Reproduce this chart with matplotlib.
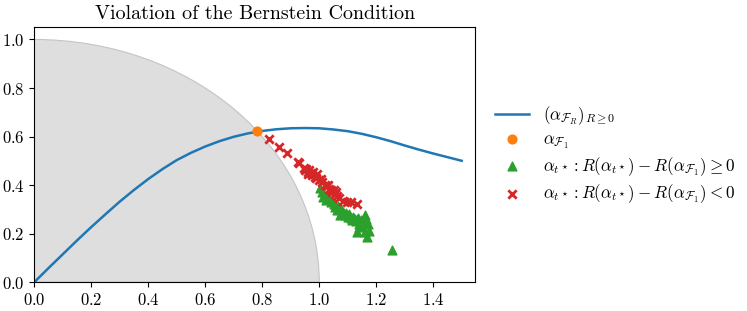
import matplotlib
matplotlib.use("Agg")
import matplotlib.pyplot as plt
from matplotlib.patches import Wedge

plt.rcParams['font.family'] = 'serif'
plt.rcParams['font.serif'] = ['cmr10']
plt.rcParams['mathtext.fontset'] = 'cm'
plt.rcParams['axes.formatter.use_mathtext'] = True
plt.rcParams['axes.unicode_minus'] = False

# curve (alpha_F_R)
curve_x = [0.0, 0.05, 0.1, 0.15, 0.2, 0.25, 0.3, 0.35, 0.4, 0.45, 0.5, 0.55,
           0.6, 0.65, 0.7, 0.75, 0.8, 0.85, 0.9, 0.95, 1.0, 1.05, 1.1, 1.15,
           1.2, 1.25, 1.3, 1.35, 1.4, 1.45, 1.5]
curve_y = [0.0, 0.058, 0.115, 0.172, 0.227, 0.280, 0.332, 0.380, 0.425, 0.466,
           0.503, 0.533, 0.559, 0.581, 0.599, 0.613, 0.623, 0.630, 0.634, 0.635,
           0.634, 0.629, 0.622, 0.611, 0.597, 0.581, 0.563, 0.546, 0.530, 0.515,
           0.5]

# alpha_F1
f1_x = [0.781]
f1_y = [0.622]

# alpha_t*, risk difference >= 0
good_x = [1.003, 1.010, 1.014, 1.020, 1.025, 1.030, 1.040, 1.045, 1.050, 1.055,
          1.061, 1.065, 1.073, 1.075, 1.080, 1.085, 1.090, 1.095, 1.100, 1.105,
          1.110, 1.115, 1.120, 1.125, 1.130, 1.135, 1.140, 1.145, 1.150, 1.160,
          1.165, 1.170, 1.131, 1.140, 1.160, 1.166, 1.175, 1.256]
good_y = [0.386, 0.370, 0.351, 0.355, 0.340, 0.350, 0.330, 0.340, 0.320, 0.310,
          0.297, 0.315, 0.276, 0.300, 0.280, 0.290, 0.275, 0.285, 0.270, 0.280,
          0.265, 0.255, 0.270, 0.260, 0.250, 0.265, 0.240, 0.255, 0.230, 0.276,
          0.260, 0.240, 0.207, 0.225, 0.205, 0.187, 0.210, 0.132]

# alpha_t*, risk difference < 0
bad_x = [0.822, 0.857, 0.888, 0.924, 0.930, 0.945, 0.950, 0.955, 0.960, 0.965,
         0.962, 0.970, 0.975, 0.978, 0.985, 0.990, 0.992, 0.998, 1.005, 1.010,
         1.020, 1.028, 1.032, 1.035, 1.040, 1.045, 1.050, 1.055, 1.060, 1.062,
         1.070, 1.085, 1.096, 1.110, 1.131]
bad_y = [0.589, 0.556, 0.534, 0.496, 0.490, 0.470, 0.462, 0.468, 0.455, 0.460,
         0.445, 0.450, 0.440, 0.455, 0.435, 0.430, 0.445, 0.420, 0.425, 0.412,
         0.400, 0.395, 0.402, 0.385, 0.378, 0.370, 0.380, 0.365, 0.372, 0.355,
         0.345, 0.335, 0.331, 0.330, 0.320]

radius = 1.0

fig = plt.figure(figsize=(7.47, 3.11), dpi=100)
ax = fig.add_axes([0.046, 0.093, 0.59, 0.819])

ax.add_patch(Wedge((0, 0), radius, 0, 90, facecolor='#dedede',
                   edgecolor='#c4c4c4', linewidth=0.8, zorder=0))

ax.plot(curve_x, curve_y, color='tab:blue', lw=1.8,
        label=r'$(\alpha_{\mathcal{F}_R})_{R\geq 0}$')
ax.scatter(f1_x, f1_y, color='tab:orange', marker='o', s=40, zorder=4,
           label=r'$\alpha_{\mathcal{F}_1}$')
ax.scatter(good_x, good_y, color='tab:green', marker='^', s=40, zorder=3,
           label=r'$\alpha_{t^\star}: R(\alpha_{t^\star}) - R(\alpha_{\mathcal{F}_1}) \geq 0$')
ax.scatter(bad_x, bad_y, color='tab:red', marker='x', s=36, linewidths=2,
           zorder=3,
           label=r'$\alpha_{t^\star}: R(\alpha_{t^\star}) - R(\alpha_{\mathcal{F}_1}) < 0$')

ax.set_xlim(0, 1.547)
ax.set_ylim(0, 1.05)
ax.set_xticks([0.0, 0.2, 0.4, 0.6, 0.8, 1.0, 1.2, 1.4])
ax.set_yticks([0.0, 0.2, 0.4, 0.6, 0.8, 1.0])
ax.tick_params(labelsize=12)
ax.set_title('Violation of the Bernstein Condition', fontsize=14.4)

ax.legend(loc='center left', bbox_to_anchor=(1.01, 0.5), frameon=False,
          fontsize=12.3, labelspacing=0.25)

fig.savefig('out.png', dpi=100)
